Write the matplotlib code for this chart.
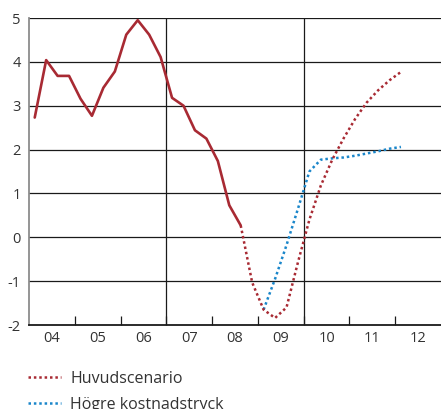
import numpy as np
import matplotlib
matplotlib.use("Agg")
import matplotlib.pyplot as plt
from matplotlib.lines import Line2D

plt.rcParams['font.family'] = ['Open Sans', 'DejaVu Sans']

# Quarterly values, 2004Q1 onwards
outcome = [2.73, 4.04, 3.68, 3.68,
           3.16, 2.77, 3.41, 3.78,
           4.62, 4.95, 4.62, 4.11,
           3.18, 3.00, 2.44, 2.25,
           1.74, 0.73, 0.27]
# Main scenario, 2008Q3 - 2012Q1
main_scen = [0.27, -1.03,
             -1.65, -1.84, -1.60, -0.57,
             0.40, 1.18, 1.77, 2.26,
             2.70, 3.07, 3.35, 3.58,
             3.77]
# Higher cost pressure, 2009Q1 - 2012Q1
high_cost = [-1.65, -0.95, -0.18, 0.65,
             1.50, 1.77, 1.80, 1.82,
             1.86, 1.91, 1.96, 2.02,
             2.06]

years = ['04', '05', '06', '07', '08', '09', '10', '11', '12']
yticks = [-2, -1, 0, 1, 2, 3, 4, 5]
series_labels = ['Huvudscenario', 'Högre kostnadstryck']

def qpos(start_year, start_q, n):
    return start_year + (start_q - 0.5 + np.arange(n)) / 4.0

x_out = qpos(2004, 1, len(outcome))
x_main = qpos(2008, 3, len(main_scen))
x_high = qpos(2009, 1, len(high_cost))

red = '#a82a33'
blue = '#1a86ca'
text_col = '#333333'
dots = (0, (1, 1.15))

fig = plt.figure(figsize=(4.41, 4.09), dpi=100)
ax = fig.add_axes([29/441, 1 - 325/409, 1 - 29/441, (325 - 18)/409])

ax.set_xlim(2004, 2013)
ax.set_ylim(-2, 5)

# horizontal grid
for v in yticks[1:]:
    ax.axhline(v, color='#1a1a1a', lw=0.9, zorder=1)
# period separators
for yr in (2007, 2010):
    ax.axvline(yr, color='#1a1a1a', lw=0.9, zorder=1)

ax.plot(x_out, outcome, color=red, lw=1.9, solid_capstyle='round',
        solid_joinstyle='round', zorder=3)
ax.plot(x_high, high_cost, color=blue, lw=1.8, linestyle=dots, zorder=3)
ax.plot(x_main, main_scen, color=red, lw=1.8, linestyle=dots, zorder=4)

for s in ('top', 'right'):
    ax.spines[s].set_visible(False)
ax.spines['left'].set_color('#8c8c8c')
ax.spines['left'].set_linewidth(1.3)
ax.spines['bottom'].set_color('#1a1a1a')
ax.spines['bottom'].set_linewidth(1.3)

ax.set_yticks(yticks)
ax.set_yticklabels([str(v) for v in yticks])
ax.tick_params(axis='y', length=0, pad=6, labelsize=10.5, labelcolor=text_col)

ax.set_xticks(np.arange(2005, 2013))
ax.set_xticklabels([])
ax.tick_params(axis='x', which='major', direction='in', length=6.5, width=0.9,
               color='#1a1a1a')
ax.set_xticks(np.arange(2004, 2013) + 0.5, minor=True)
ax.set_xticklabels(years, minor=True)
ax.tick_params(axis='x', which='minor', length=0, pad=4, labelsize=10.5,
               labelcolor=text_col)

handles = [Line2D([], [], color=red, lw=1.8, linestyle=dots),
           Line2D([], [], color=blue, lw=1.8, linestyle=dots)]
fig.legend(handles, series_labels, loc='upper left',
           bbox_to_anchor=(28/441, 1 - 371/409), frameon=False,
           fontsize=11.5, labelcolor=text_col, handlelength=2.05,
           handletextpad=0.6, labelspacing=0.6, borderpad=0,
           borderaxespad=0)

fig.savefig('out.png', dpi=100)
